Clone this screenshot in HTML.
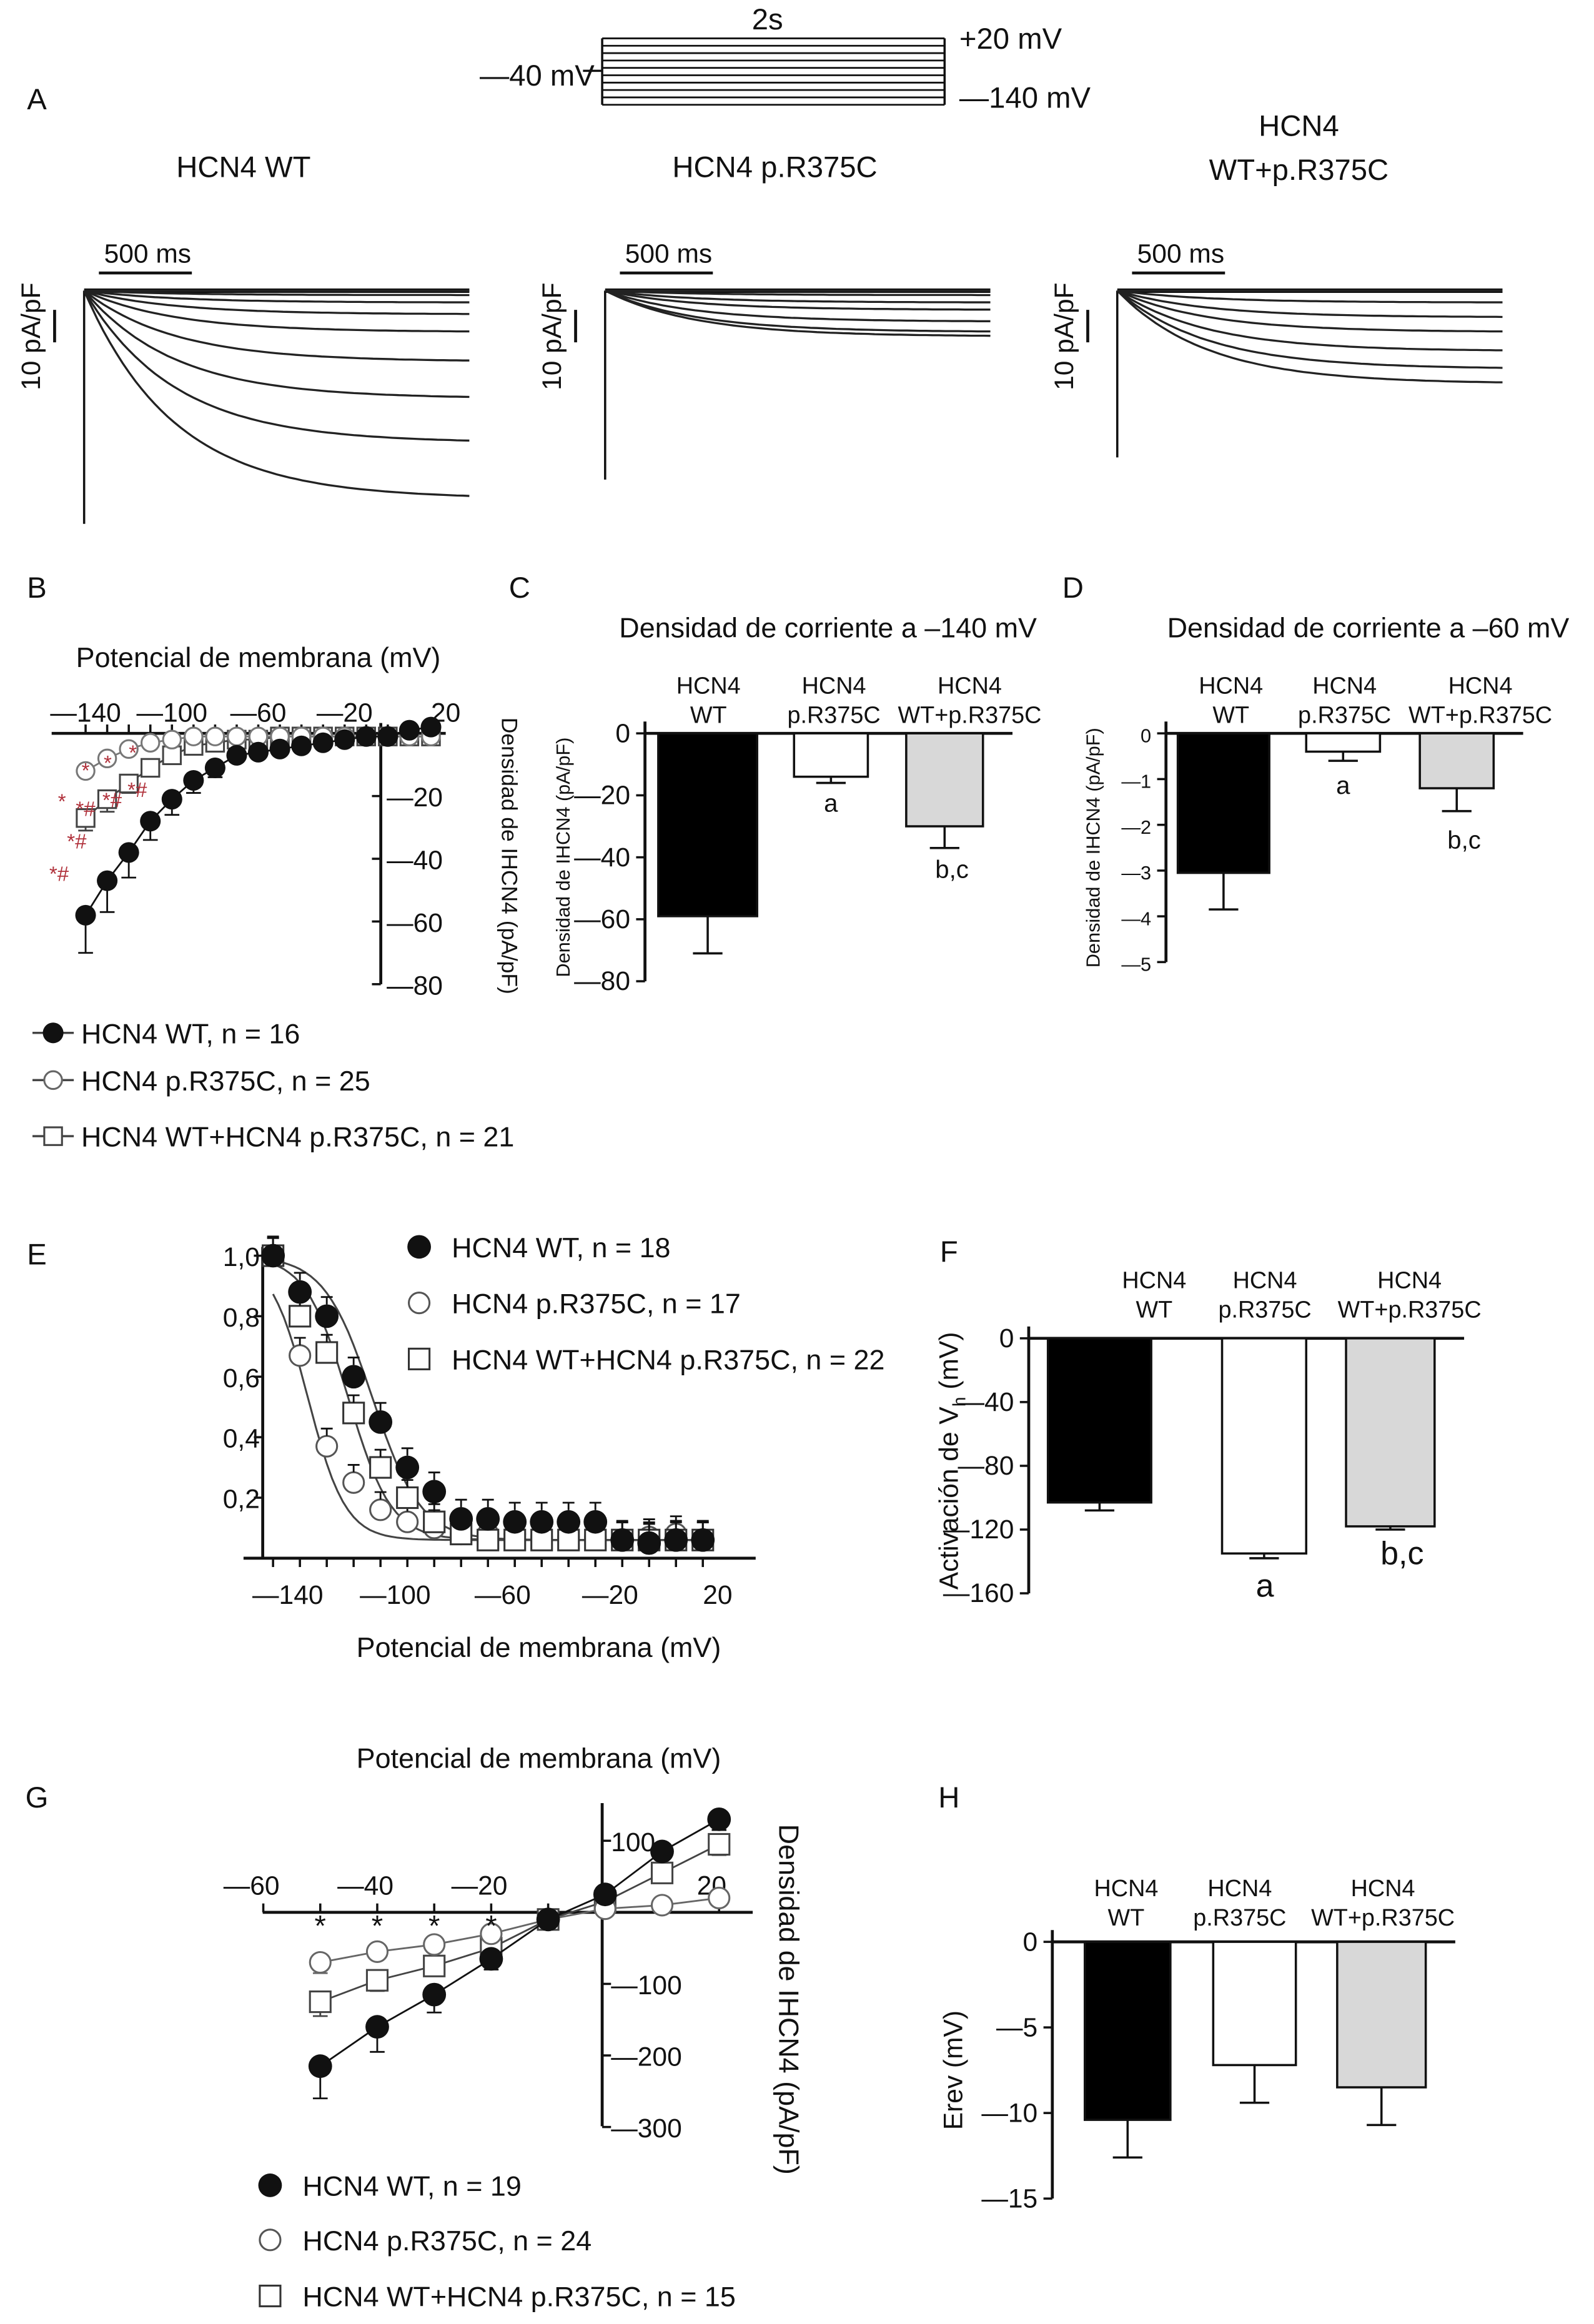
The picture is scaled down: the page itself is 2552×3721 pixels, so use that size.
<!DOCTYPE html>
<html><head><meta charset="utf-8"><style>
html,body{margin:0;padding:0;background:#fff}
svg{display:block}
text{font-family:"Liberation Sans",sans-serif;fill:#111}
</style></head><body>
<svg id="fig" xmlns="http://www.w3.org/2000/svg" width="2552" height="3721" viewBox="0 0 1080 1575" preserveAspectRatio="none">
<rect width="1080" height="1575" fill="#fff"/>
</svg>
<script>
// ---------- DATA ----------
const vB = [-140,-130,-120,-110,-100,-90,-80,-70,-60,-50,-40,-30,-20,-10,0,10,20];
const bWT = [-58,-47,-38,-28,-21,-15,-11,-7,-6,-5,-4,-3,-2,-1,-1,1,2];
const bWTerr = [12,10,8,6,5,4,3,2,1,1,1,1,1,1,1,1,1];
const bMut = [-12,-8,-5,-3,-2,-1,-1,-1,-1,-1,-1,-1,-1,-1,-1,-1,-1];
const bCom = [-27,-21,-16,-11,-7,-4,-3,-2,-2,-1,-1,-1,-1,-1,-1,-1,-1];
const bComErr = [4,4,3,2,1,1,1,1,1,1,1,1,1,1,1,1,1];
const bTicksX = [-140,-100,-60,-20,20];
const bTicksY = [-20,-40,-60,-80];

const barGroups = ["HCN4 WT","HCN4 p.R375C","HCN4 WT+p.R375C"];
const cVals = [-59,-14,-30];
const cErr = [12,2,7];
const cTicks = [0,-20,-40,-60,-80];
const dVals = [-3.05,-0.4,-1.2];
const dErr = [0.8,0.2,0.5];
const dTicks = [0,-1,-2,-3,-4,-5];

const vE = [-140,-130,-120,-110,-100,-90,-80,-70,-60,-50,-40,-30,-20,-10,0,10,20];
const eWT = [1.0,0.88,0.80,0.60,0.45,0.30,0.22,0.13,0.13,0.12,0.12,0.12,0.12,0.06,0.05,0.06,0.06];
const eMut = [1.0,0.67,0.37,0.25,0.16,0.12,0.10,0.08,0.08,0.08,0.07,0.07,0.07,0.06,0.07,0.08,0.06];
const eCom = [1.0,0.80,0.68,0.48,0.30,0.20,0.12,0.08,0.06,0.06,0.06,0.06,0.06,0.06,0.06,0.06,0.06];
const eTicksX = [-140,-100,-60,-20,20];
const eTicksY = [0.2,0.4,0.6,0.8,1.0];

const fVals = [-103,-135,-118];
const fErr = [5,3,2];
const fTicks = [0,-40,-80,-120,-160];

const vG = [-50,-40,-30,-20,-10,0,10,20];
const gWT = [-215,-160,-115,-65,-10,25,85,130];
const gMut = [-70,-55,-45,-30,-10,5,10,20];
const gCom = [-125,-95,-75,-50,-10,15,55,95];
const gTicksX = [-60,-40,-20,20];
const gTicksY = [100,-100,-200,-300];

const hVals = [-10.4,-7.2,-8.5];
const hErr = [2.2,2.2,2.2];
const hTicks = [0,-5,-10,-15];

const trWT = [0,3,8,16,28,48,73,103,141];
const trMut = [0,3,8,13,21,28,31];
const trCom = [0,8,18,28,41,53,63];

// ---------- HELPERS ----------
const NS="http://www.w3.org/2000/svg";
const svg=document.getElementById('fig');
function mk(tag,attrs,parent){const e=document.createElementNS(NS,tag);for(const k in attrs)e.setAttribute(k,attrs[k]);(parent||svg).appendChild(e);return e;}
function txt(x,y,s,size,anchor,parent,extra){const t=mk('text',Object.assign({x:x,y:y,'font-size':size||19,'text-anchor':anchor||'middle'},extra||{}),parent);t.textContent=s;return t;}
function line(x1,y1,x2,y2,w,parent,col){return mk('line',{x1:x1,y1:y1,x2:x2,y2:y2,stroke:col||'#111','stroke-width':w||2},parent);}

// ---------- PANEL A ----------
let gA=mk('g',{});


txt(25,74,'A',20,'middle',gA);
for(let i=0;i<10;i++){line(408,26+i*5,640,26+i*5,1.2,gA);}
line(408,26,408,71,1.5,gA);line(640,26,640,71,1.5,gA);
line(395,48,408,48,1.5,gA);
txt(520,20,'2s',20,'middle',gA);
txt(325,58,'—40 mV',20,'start',gA);
txt(650,33,'+20 mV',20,'start',gA);
txt(650,73,'—140 mV',20,'start',gA);
txt(165,120,'HCN4 WT',20,'middle',gA);
txt(525,120,'HCN4 p.R375C',20,'middle',gA);
txt(880,92,'HCN4',20,'middle',gA);
txt(880,122,'WT+p.R375C',20,'middle',gA);
function traces(x0,ends,spike,name){
  const g=mk('g',{},gA);
  
  
  const base=197,w=261;
  line(x0,base,x0,spike,1.5,g);
  line(x0,base,x0+w,base,3,g);
  ends.forEach(e=>{let d='M'+x0+' '+base;for(let i=1;i<=60;i++){const x=x0+w*i/60;const y=base+e*(1-Math.exp(-i/14));d+=' L'+x.toFixed(1)+' '+y.toFixed(1);}mk('path',{d:d,fill:'none',stroke:'#222','stroke-width':1.4},g);});
  line(x0+10,185,x0+73,185,2,g);
  txt(x0+43,178,'500 ms',18,'middle',g);
  line(x0-20,210,x0-20,232,2,g);
  txt(0,0,'10 pA/pF',18,'middle',g,{transform:'translate('+(x0-30)+',228) rotate(-90)'});
}
traces(57,trWT,355,'wt-traces');
traces(410,trMut,325,'mutant-traces');
traces(757,trCom,310,'combined-traces');

// ---------- PANEL B ----------
let gB=mk('g',{});


const bx=v=>58+(v+140)*1.4625;
const byy=v=>497-v*2.125;
txt(25,405,'B',20,'middle',gB);
txt(175,452,'Potencial de membrana (mV)',19,'middle',gB);
line(35,497,302,497,2,gB);line(258,490,258,667,2,gB);
vB.forEach(v=>line(bx(v),497,bx(v),491,1.5,gB));
bTicksX.forEach(v=>txt(bx(v)-(v===20?-10:0),489,v<0?'—'+(-v):String(v),18,'middle',gB));
bTicksY.forEach(v=>{line(258,byy(v),252,byy(v),1.5,gB);txt(262,byy(v)+7,'—'+(-v),18,'start',gB);});
txt(0,0,'Densidad de IHCN4 (pA/pF)',15,'middle',gB,{transform:'translate(340,580) rotate(90)'});
function series(xs,ys,xf,yf,kind,g,name,err,size,col){
  const s=mk('g',{},g);
  
  
  const c=col||'#111';
  mk('polyline',{points:xs.map((v,i)=>xf(v)+','+yf(ys[i])).join(' '),fill:'none',stroke:c,'stroke-width':1.2},s);
  xs.forEach((v,i)=>{const x=xf(v),y=yf(ys[i]);
    if(err){const ye=yf(ys[i]-err[i]);line(x,y,x,ye,1.2,s,c);line(x-5,ye,x+5,ye,1.2,s,c);}
    let m;
    if(kind==='dot'){m=mk('circle',{cx:x,cy:y,r:size,fill:'#111'},s);}
    else if(kind==='circ'){m=mk('circle',{cx:x,cy:y,r:size,fill:'#fff',stroke:c,'stroke-width':1.3},s);}
    else {m=mk('rect',{x:x-size,y:y-size,width:size*2,height:size*2,fill:'#fff',stroke:c,'stroke-width':1.3},s);}
    
    
  });
}
series(vB,bCom,bx,byy,'sq',gB,'series-combined',bComErr,6,'#444');
series(vB,bMut,bx,byy,'circ',gB,'series-mutant',null,6,'#777');
series(vB,bWT,bx,byy,'dot',gB,'series-wt',bWTerr,7);
[['*',58,527],['*',73,522],['*',90,515],['*',42,548],['*#',58,553],['*#',76,547],['*#',93,540],['*#',52,575],['*#',40,597]].forEach(a=>txt(a[1],a[2],a[0],14,'middle',gB,{style:'fill:#b0303a'}));
const lgB=[['dot','HCN4 WT, n = 16',700],['circ','HCN4 p.R375C, n = 25',732],['sq','HCN4 WT+HCN4 p.R375C, n = 21',770]];
lgB.forEach(l=>{const g=mk('g',{},gB);
  line(22,l[2],50,l[2],1.5,g,'#444');
  if(l[0]==='dot')mk('circle',{cx:36,cy:l[2],r:7,fill:'#111'},g);
  else if(l[0]==='circ')mk('circle',{cx:36,cy:l[2],r:6,fill:'#fff',stroke:'#666','stroke-width':1.3},g);
  else mk('rect',{x:30,y:l[2]-6,width:12,height:12,fill:'#fff',stroke:'#444','stroke-width':1.3},g);
  txt(55,l[2]+7,l[1],19,'start',g);});

// ---------- BAR PANEL HELPER ----------
function barPanel(name,letter,lx,ly,title,tx,ty,axX,y0,yPerUnit,ticks,tickFmt,vals,errs,xs,ws,fills,heads,headY,tickSize,ylab,ylabX,ylabSize,notes,headX){
  const g=mk('g',{});
  
  
  const yf=v=>y0-v*yPerUnit;
  txt(lx,ly,letter,20,'middle',g);
  if(title)txt(tx,ty,title,19,'middle',g);
  const minT=Math.min(...ticks);
  line(axX,y0-8,axX,yf(minT),2,g);
  line(axX,y0,xs[2]+ws[2]+20,y0,2,g);
  ticks.forEach(t=>{line(axX-6,yf(t),axX,yf(t),1.5,g);txt(axX-10,yf(t)+6,tickFmt(t),tickSize,'end',g);});
  vals.forEach((v,i)=>{
    const b=mk('rect',{x:xs[i],y:y0,width:ws[i],height:yf(v)-y0,fill:fills[i],stroke:'#111','stroke-width':1.5},g);
    
    
    const cx=xs[i]+ws[i]/2,ye=yf(v-errs[i]);
    line(cx,yf(v),cx,ye,1.5,g);line(cx-10,ye,cx+10,ye,1.5,g);
    const hd=heads[i].split('|');
    const hx=headX?headX[i]:cx;
    txt(hx,headY,hd[0],16,'middle',g);txt(hx,headY+20,hd[1],16,'middle',g);
  });
  if(ylab){txt(0,0,ylab,ylabSize,'middle',g,{transform:'translate('+ylabX+','+(y0+(yf(minT)-y0)/2)+') rotate(-90)'});}
  (notes||[]).forEach(n=>txt(n[1],n[2],n[0],n[3]||17,'middle',g));
  return g;
}
const neg=t=>t===0?'0':'—'+(-t);
const heads=['HCN4|WT','HCN4|p.R375C','HCN4|WT+p.R375C'];
barPanel('panel-c-bar-chart','C',352,405,'Densidad de corriente a –140 mV',561,432,437,497,2.1,cTicks,neg,cVals,cErr,[446,538,614],[67,50,52],['#000','#fff','#d8d8d8'],heads,470,18,'Densidad de IHCN4 (pA/pF)',386,13,[['a',563,550],['b,c',645,595]],[480,565,657]);
barPanel('panel-d-bar-chart','D',727,405,'Densidad de corriente a –60 mV',927,432,790,497,31,dTicks,neg,dVals,dErr,[798,885,962],[62,50,50],['#000','#fff','#d8d8d8'],heads,470,13,'Densidad de IHCN4 (pA/pF)',745,13,[['a',910,538],['b,c',992,575]],[834,911,1003]);
const gF=barPanel('panel-f-bar-chart','F',643,855,'',0,0,697,907,1.08,fTicks,neg,fVals,fErr,[710,828,912],[70,57,60],['#000','#fff','#d8d8d8'],heads,873,18,'',640,18,[['a',857,1082,22],['b,c',950,1060,22]],[782,857,955]);
{const t=mk('text',{x:0,y:0,'font-size':18,'text-anchor':'middle',transform:'translate(649,990) rotate(-90)'},gF);
 
 
 const a=mk('tspan',{},t);a.textContent='Activación de V';
 const b=mk('tspan',{'font-size':12,dy:5},t);b.textContent='h';
 const c=mk('tspan',{dy:-5},t);c.textContent=' (mV)';}
barPanel('panel-h-bar-chart','H',643,1225,'',0,0,713,1316,11.6,hTicks,neg,hVals,hErr,[735,822,906],[58,56,60],['#000','#fff','#d8d8d8'],heads,1285,18,'Erev (mV)',652,18,[],[763,840,937]);

// ---------- PANEL E ----------
let gE=mk('g',{});


const ex=v=>185+(v+140)*1.82, ey=v=>1056-v*205;
txt(25,857,'E',20,'middle',gE);
line(165,1056,512,1056,2,gE);line(178,845,178,1056,2,gE);
vE.forEach(v=>line(ex(v),1056,ex(v),1062,1.5,gE));
eTicksX.forEach(v=>txt(ex(v)+10,1087,v<0?'—'+(-v):String(v),18,'middle',gE));
eTicksY.forEach(v=>{line(172,ey(v),178,ey(v),1.5,gE);txt(176,ey(v)+7,v.toFixed(1).replace('.',','),18,'end',gE);});
txt(365,1123,'Potencial de membrana (mV)',19,'middle',gE);
function fitCurve(v,k,name,g){let d='';for(let x=-140;x<=20;x+=2){d+=(d?'L':'M')+ex(x).toFixed(1)+' '+ey(0.06+0.94/(1+Math.exp((x-v)/k))).toFixed(1);}const p=mk('path',{d:d,fill:'none',stroke:'#444','stroke-width':1.3},g);}
function pts(xs,ys,xf,yf,kind,g,name,size){
  xs.forEach((v,i)=>{const x=xf(v),y=yf(ys[i]);let m;
    if(kind==='dot')m=mk('circle',{cx:x,cy:y,r:size,fill:'#111'},g);
    else if(kind==='circ')m=mk('circle',{cx:x,cy:y,r:size,fill:'#fff',stroke:'#555','stroke-width':1.3},g);
    else m=mk('rect',{x:x-size,y:y-size,width:size*2,height:size*2,fill:'#fff',stroke:'#333','stroke-width':1.3},g);
    line(x,y-size,x,y-size-5,1.2,g);line(x-4,y-size-5,x+4,y-size-5,1.2,g);
    });
}
fitCurve(-103,9,'fit-wt',gE);fitCurve(-127,7,'fit-mutant',gE);fitCurve(-112,8,'fit-combined',gE);
pts(vE,eMut,ex,ey,'circ',gE,'mutant-point',7);
pts(vE,eCom,ex,ey,'sq',gE,'combined-point',7);
pts(vE,eWT,ex,ey,'dot',gE,'wt-point',8);
[['dot','HCN4 WT, n = 18',845],['circ','HCN4 p.R375C, n = 17',883],['sq','HCN4 WT+HCN4 p.R375C, n = 22',921]].forEach(l=>{const g=mk('g',{},gE);
  if(l[0]==='dot')mk('circle',{cx:284,cy:l[2],r:8,fill:'#111'},g);
  else if(l[0]==='circ')mk('circle',{cx:284,cy:l[2],r:7,fill:'#fff',stroke:'#555','stroke-width':1.3},g);
  else mk('rect',{x:277,y:l[2]-7,width:14,height:14,fill:'#fff',stroke:'#333','stroke-width':1.3},g);
  txt(306,l[2]+7,l[1],19,'start',g);});

// ---------- PANEL G ----------
let gG=mk('g',{});


const gx=v=>410+v*3.86, gy=v=>1296-v*0.485;
txt(25,1225,'G',20,'middle',gG);
txt(365,1198,'Potencial de membrana (mV)',19,'middle',gG);
line(178,1296,510,1296,2,gG);line(408,1222,408,1441,2,gG);
[-60,-50,-40,-30,-20,-10,10,20].forEach(v=>line(gx(v),1296,gx(v),1290,1.5,gG));
gTicksX.forEach(v=>txt(v<0?gx(v)-8:gx(v)-5,1284,v<0?'—'+(-v):String(v),18,'middle',gG));
gTicksY.forEach(v=>{line(408,gy(v),414,gy(v),1.5,gG);txt(414,gy(v)+7,v<0?'—'+(-v):String(v),18,'start',gG);});
txt(0,0,'Densidad de IHCN4 (pA/pF)',19,'middle',gG,{transform:'translate(528,1355) rotate(90)'});
series(vG,gCom,gx,gy,'sq',gG,'series-combined',[20,15,10,8,5,5,10,15],7,'#444');
series(vG,gMut,gx,gy,'circ',gG,'series-mutant',[15,10,8,5,5,5,5,5],7,'#666');
series(vG,gWT,gx,gy,'dot',gG,'series-wt',[45,35,25,15,5,5,10,15],8);
[-50,-40,-30,-20].forEach(v=>txt(gx(v),1312,'*',20,'middle',gG));
[['dot','HCN4 WT, n = 19',1481],['circ','HCN4 p.R375C, n = 24',1518],['sq','HCN4 WT+HCN4 p.R375C, n = 15',1556]].forEach(l=>{const g=mk('g',{},gG);
  if(l[0]==='dot')mk('circle',{cx:183,cy:l[2],r:8,fill:'#111'},g);
  else if(l[0]==='circ')mk('circle',{cx:183,cy:l[2],r:7,fill:'#fff',stroke:'#555','stroke-width':1.3},g);
  else mk('rect',{x:176,y:l[2]-7,width:14,height:14,fill:'#fff',stroke:'#333','stroke-width':1.3},g);
  txt(205,l[2]+7,l[1],19,'start',g);});
</script>
</body></html>
